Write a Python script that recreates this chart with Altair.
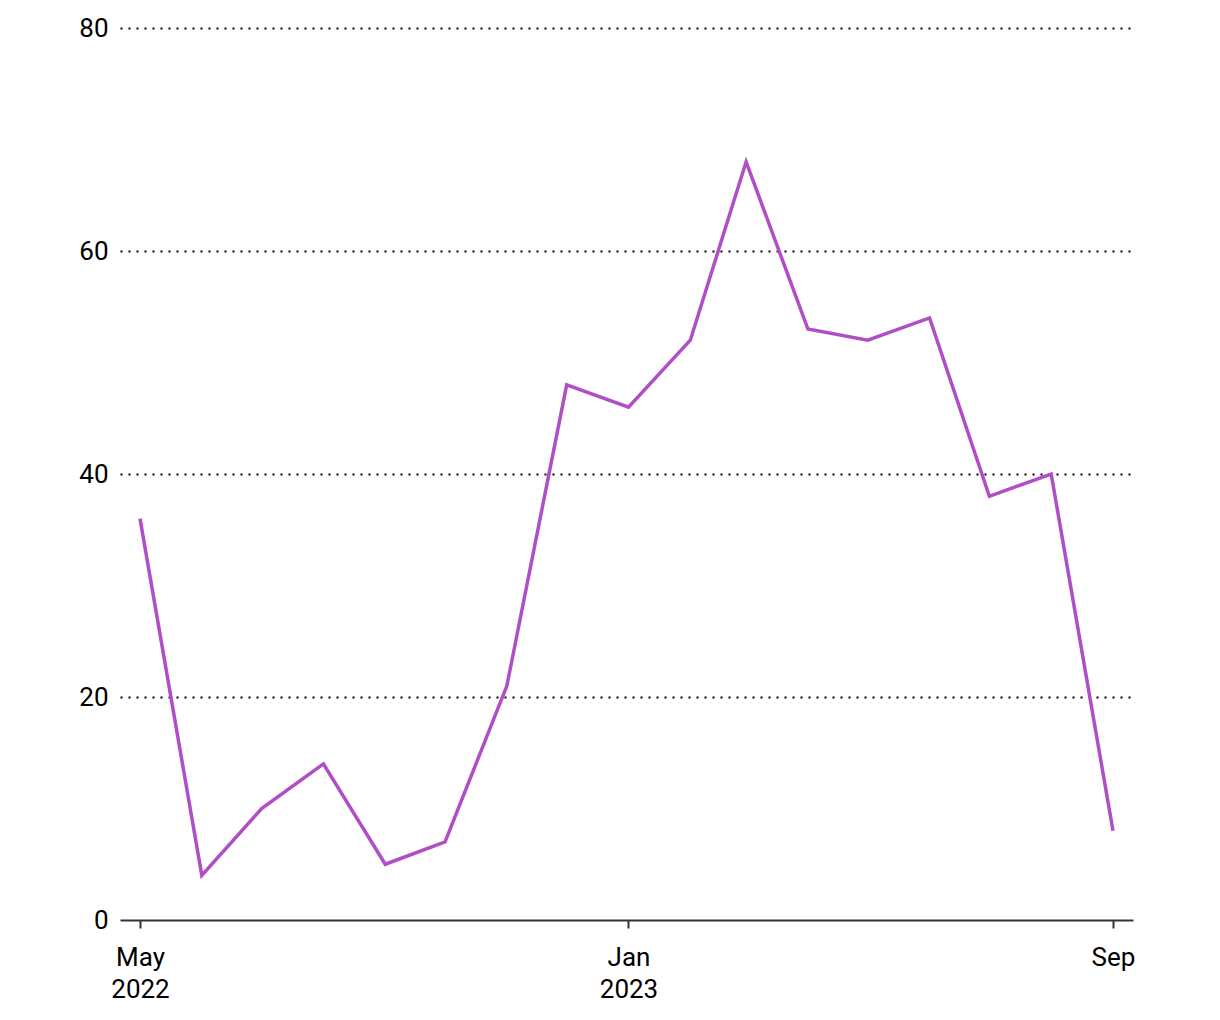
import altair as alt
import pandas as pd

months = ["2022-05-01", "2022-06-01", "2022-07-01", "2022-08-01", "2022-09-01",
          "2022-10-01", "2022-11-01", "2022-12-01", "2023-01-01", "2023-02-01",
          "2023-03-01", "2023-04-01", "2023-05-01", "2023-06-01", "2023-07-01",
          "2023-08-01", "2023-09-01"]
values = [36, 4, 10, 14, 5, 7, 21, 48, 46, 52, 68, 53, 52, 54, 38, 40, 8]
y_ticks = [0, 20, 40, 60, 80]
x_ticks = [alt.DateTime(year=2022, month=5, date=1),
           alt.DateTime(year=2023, month=1, date=1),
           alt.DateTime(year=2023, month=9, date=1)]

df = pd.DataFrame({"date": months, "value": values})

label_expr = ("datum.index == 0 || month(datum.value) == 0 ? "
              "[timeFormat(datum.value, '%b'), timeFormat(datum.value, '%Y')] : "
              "timeFormat(datum.value, '%b')")

chart = alt.Chart(df).mark_line(color="#b04ec6", strokeWidth=3.5).encode(
    x=alt.X("date:T", title=None,
            scale=alt.Scale(padding=20),
            axis=alt.Axis(values=x_ticks, labelExpr=label_expr, grid=False,
                          domainColor="#333333", domainWidth=2,
                          tickColor="#333333", tickWidth=2, tickSize=8,
                          labelFont="Roboto", labelFontSize=26, labelColor="#000000",
                          labelPadding=16, labelLineHeight=32)),
    y=alt.Y("value:Q", title=None,
            scale=alt.Scale(domain=[0, 80], nice=False),
            axis=alt.Axis(values=y_ticks, domain=False, ticks=False,
                          grid=True, gridColor="#000000", gridDash=[2, 6], gridWidth=2,
                          gridOpacity=alt.condition(alt.datum.value == 0, alt.value(0), alt.value(1)),
                          labelFont="Roboto", labelFontSize=26, labelColor="#000000",
                          labelPadding=12))
).properties(
    width=1013, height=892,
    autosize=alt.AutoSizeParams(type="none"),
    padding={"left": 120, "top": 28, "right": 87, "bottom": 100}
).configure_view(stroke=None)

chart.save("out.html", embed_options={"renderer": "svg", "actions": False})
